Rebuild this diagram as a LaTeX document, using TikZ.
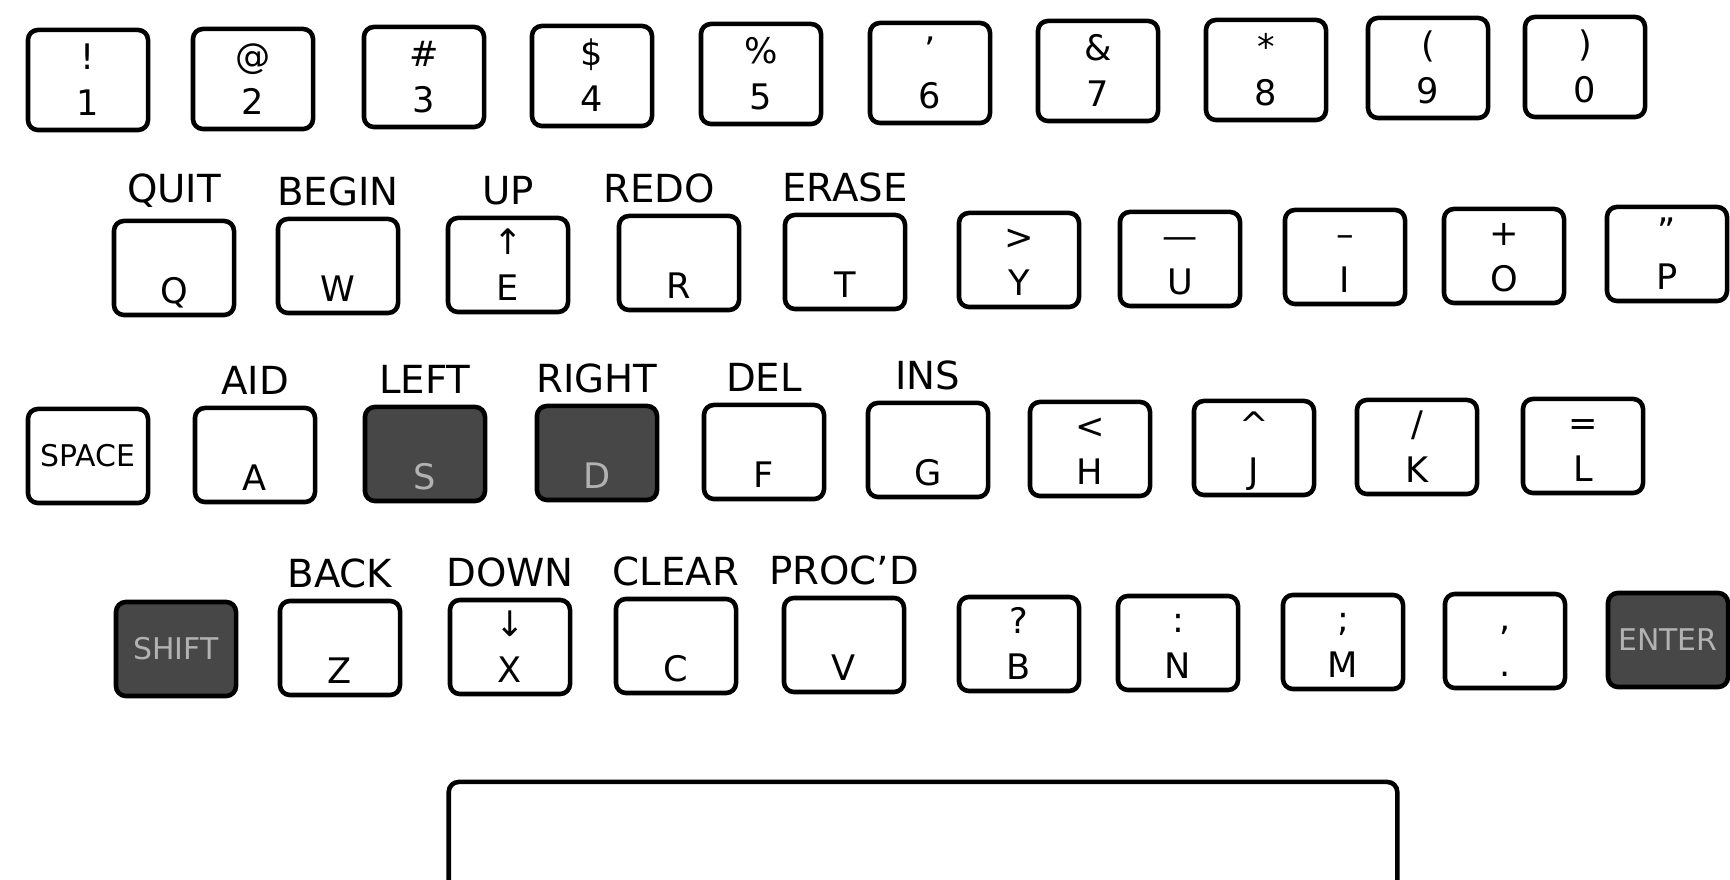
\documentclass[tikz,border=0pt]{standalone}
\usepackage{fontspec}
\setmainfont{DejaVu Sans}
\usepackage{tikz}
\usetikzlibrary{positioning}
\newcommand{\capstrut}{\rule[-2.85pt]{0pt}{13pt}}
\newcommand{\kt}[2]{\capstrut#1\\\capstrut#2}

\begin{document}
\begin{tikzpicture}[
    x=0.01cm, y=-0.01cm,
    keycap/.style={rectangle, rounded corners=0.1cm, draw, line width=1.3pt, minimum width=1.2cm, minimum height=0.94cm, inner sep=0pt, align=center, font=\fontsize{10}{13}\selectfont},
    darkcap/.style={keycap, fill=black!72, text=white!70!black},
    fnlabel/.style={inner sep=0pt, font=\fontsize{11}{13}\selectfont}
]
\useasboundingbox (0,0) rectangle (1730,880);

% Number row
\node[keycap, minimum height=1cm] (k1) at (88,80) {\kt{!}{1}};
\node[keycap, minimum height=1cm] (k2) at (253,79) {\kt{@}{2}};
\node[keycap, minimum height=1cm] (k3) at (424,77) {\kt{\#}{3}};
\node[keycap, minimum height=1cm] (k4) at (592,76) {\kt{\$}{4}};
\node[keycap, minimum height=1cm] (k5) at (761,74) {\kt{\%}{5}};
\node[keycap, minimum height=1cm] (k6) at (930,73) {\kt{'}{6}};
\node[keycap, minimum height=1cm] (k7) at (1098,71) {\kt{\&}{7}};
\node[keycap, minimum height=1cm] (k8) at (1266,70) {\kt{*}{8}};
\node[keycap, minimum height=1cm] (k9) at (1428,68) {\kt{(}{9}};
\node[keycap, minimum height=1cm] (k0) at (1585,67) {\kt{)}{0}};

% Top letter row
\node[keycap] (kq) at (174,268) {\kt{}{Q}};
\node[keycap] (kw) at (338,266) {\kt{}{W}};
\node[keycap] (ke) at (508,265) {\kt{↑}{E}};
\node[keycap] (kr) at (679,263) {\kt{}{R}};
\node[keycap] (kt) at (845,262) {\kt{}{T}};
\node[keycap] (ky) at (1019,260) {\kt{>}{Y}};
\node[keycap] (ku) at (1180,259) {\kt{—}{U}};
\node[keycap] (ki) at (1345,257) {\kt{–}{I}};
\node[keycap] (ko) at (1504,256) {\kt{+}{O}};
\node[keycap] (kp) at (1667,254) {\kt{''}{P}};

% Home row
\node[keycap, font=\fontsize{8.5}{10}\selectfont] (kspace) at (88,456) {SPACE};
\node[keycap] (ka) at (255,455) {\kt{}{A}};
\node[darkcap] (ks) at (425,454) {\kt{}{S}};
\node[darkcap] (kd) at (597,453) {\kt{}{D}};
\node[keycap] (kf) at (764,452) {\kt{}{F}};
\node[keycap] (kg) at (928,450) {\kt{}{G}};
\node[keycap] (kh) at (1090,449) {\kt{<}{H}};
\node[keycap] (kj) at (1254,448) {\kt{\textasciicircum}{J}};
\node[keycap] (kk) at (1417,447) {\kt{/}{K}};
\node[keycap] (kl) at (1583,446) {\kt{=}{L}};

% Bottom row
\node[darkcap, font=\fontsize{8.5}{10}\selectfont] (kshift) at (176,649) {SHIFT};
\node[keycap] (kz) at (340,648) {\kt{}{Z}};
\node[keycap] (kx) at (510,647) {\kt{↓}{X}};
\node[keycap] (kc) at (676,646) {\kt{}{C}};
\node[keycap] (kv) at (844,645) {\kt{}{V}};
\node[keycap] (kb) at (1019,644) {\kt{?}{B}};
\node[keycap] (kn) at (1178,643) {\kt{:}{N}};
\node[keycap] (km) at (1343,642) {\kt{;}{M}};
\node[keycap] (kcomma) at (1505,641) {\kt{,}{.}};
\node[darkcap, font=\fontsize{8.5}{10}\selectfont] (kenter) at (1668,640) {ENTER};

% Space bar
\node[keycap, minimum width=9.48cm, minimum height=1.4cm] (spacebar) at (923,852) {};

% Function labels
\node[fnlabel, above=0.1cm of kq] (quit) {QUIT};
\node[fnlabel, above=0.1cm of kw] (begin) {BEGIN};
\node[fnlabel, above=0.1cm of ke] (up) {UP};
\node[fnlabel, above=0.1cm of kr, xshift=-0.2cm] (redo) {REDO};
\node[fnlabel, above=0.1cm of kt] (erase) {ERASE};
\node[fnlabel, above=0.1cm of ka] (aid) {AID};
\node[fnlabel, above=0.1cm of ks] (left) {LEFT};
\node[fnlabel, above=0.1cm of kd] (right) {RIGHT};
\node[fnlabel, above=0.1cm of kf] (del) {DEL};
\node[fnlabel, above=0.1cm of kg] (ins) {INS};
\node[fnlabel, above=0.1cm of kz] (back) {BACK};
\node[fnlabel, above=0.1cm of kx] (down) {DOWN};
\node[fnlabel, above=0.1cm of kc] (clear) {CLEAR};
\node[fnlabel, above=0.1cm of kv] (procd) {PROC'D};
\end{tikzpicture}
\end{document}
